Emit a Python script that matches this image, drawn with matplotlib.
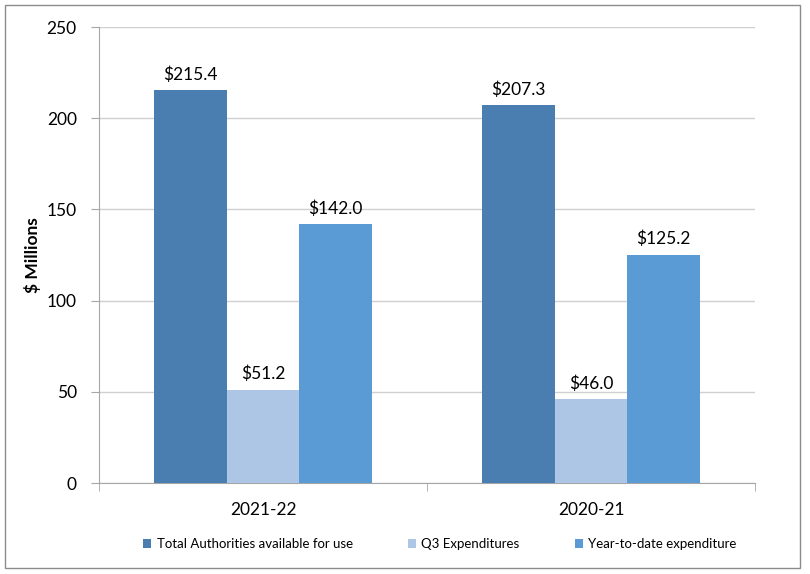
import matplotlib
matplotlib.use("Agg")
import matplotlib.pyplot as plt
import numpy as np
from matplotlib.patches import Rectangle

plt.rcParams['font.family'] = ['Lato', 'DejaVu Sans']

categories = ["2021-22", "2020-21"]
series_names = ["Total Authorities available for use", "Q3 Expenditures", "Year-to-date expenditure"]
total_auth = [215.4, 207.3]
q3_exp = [51.2, 46.0]
ytd_exp = [142.0, 125.2]
colors = ["#4A7EB0", "#ADC6E5", "#5B9BD5"]
yticks = [0, 50, 100, 150, 200, 250]

W, H = 810, 574
fig = plt.figure(figsize=(W/100, H/100), dpi=100)
fig.patches.append(Rectangle((5/W, 6/H), 795/W, 563/H, transform=fig.transFigure,
                             fill=False, edgecolor="#8C8C8C", linewidth=1.0))
ax = fig.add_axes([99/W, 1 - 483/H, (755-99)/W, (483-27)/H])

x = np.arange(len(categories))
bw = 0.222
for i, (vals, c, name) in enumerate(zip([total_auth, q3_exp, ytd_exp], colors, series_names)):
    pos = x + (i - 1) * bw
    ax.bar(pos, vals, width=bw, color=c, label=name, zorder=3)
    for p, v in zip(pos, vals):
        ax.text(p, v + 4, f"${v:.1f}", ha="center", va="bottom", fontsize=12.5, color="black")

ax.set_xlim(-0.5, len(categories) - 0.5)
ax.set_ylim(0, 250)
ax.set_yticks(yticks)
ax.set_yticklabels([str(t) for t in yticks], fontsize=12.5)
ax.yaxis.grid(True, color="#D0D0D0", linewidth=1, zorder=0)
ax.set_axisbelow(True)
ax.set_xticks(x)
ax.set_xticklabels(categories, fontsize=12.5)
ax.tick_params(axis="x", length=0, pad=14)
ax.set_xticks([-0.5, 0.5, 1.5], minor=True)
ax.tick_params(axis="x", which="minor", length=6, color="#A6A6A6")
ax.tick_params(axis="y", length=6, color="#A6A6A6", pad=10)
for s in ["top", "right"]:
    ax.spines[s].set_visible(False)
for s in ["left", "bottom"]:
    ax.spines[s].set_color("#A6A6A6")
ax.set_ylabel("$ Millions", fontsize=12.5, fontweight="bold", labelpad=4)

leg = fig.legend(loc="center", bbox_to_anchor=(440/W, 1 - 544/H), ncol=3, frameon=False,
                 fontsize=9.5, handlelength=0.6, handleheight=0.6, columnspacing=4.2, handletextpad=0.4)

fig.savefig("out.png", dpi=100)
